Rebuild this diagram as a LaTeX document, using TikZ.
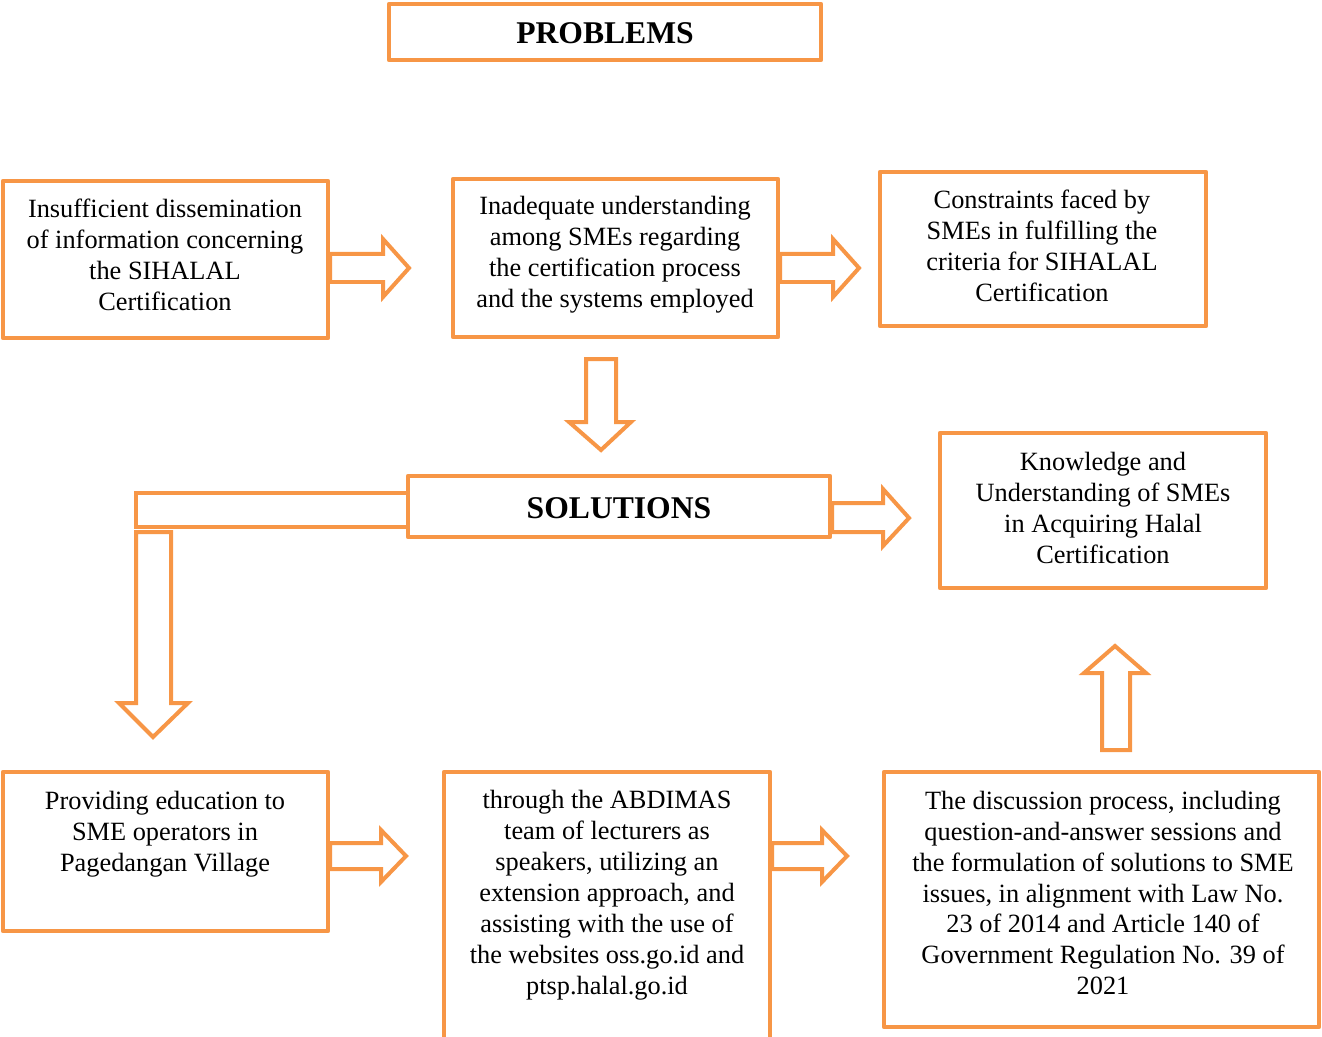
\documentclass[tikz,border=0pt]{standalone}
\usepackage{fontspec}
\setmainfont{Liberation Serif}
\definecolor{boxorange}{HTML}{F79646}
\tikzset{
  every picture/.style={x=0.02cm,y=-0.02cm},
  boxline/.style={draw=boxorange,line width=0.09cm,line join=round},
  blockarrow/.style={draw=boxorange,line width=0.08cm,line join=miter,fill=white},
  txt/.style={align=center,font=\fontsize{15}{17.6}\selectfont,inner sep=0pt},
  headtxt/.style={align=center,font=\fontsize{18}{21}\selectfont\bfseries,inner sep=0pt}
}
\begin{document}
\begin{tikzpicture}
\useasboundingbox (0,0) rectangle (1322,1037);
% boxes
\draw[boxline] (389,4) rectangle (821,60);
\node[headtxt] (problems) at (605,33) {PROBLEMS};

\draw[boxline] (3,181) rectangle (328,338);
\node[txt] (p1) at (165,255) {Insufficient dissemination\\of information concerning\\the SIHALAL\\Certification};

\draw[boxline] (453,179) rectangle (778,337);
\node[txt] (p2) at (615,255) {Inadequate understanding\\among SMEs regarding\\the certification process\\and the systems employed};

\draw[boxline] (880,172) rectangle (1206,326);
\node[txt] (p3) at (1042,246) {Constraints faced by\\SMEs in fulfilling the\\criteria for SIHALAL\\Certification};

% L connector
\draw[blockarrow] (136,493) rectangle (408,527);
\draw[blockarrow] (136,532) -- (171,532) -- (171,703) -- (188,703) -- (153,737) -- (119,703) -- (136,703) -- cycle;

\draw[boxline] (408,476) rectangle (830,537);
\node[headtxt] (solutions) at (619,508) {SOLUTIONS};

\draw[boxline] (940,433) rectangle (1266,588);
\node[txt] (k) at (1103,508) {Knowledge and\\Understanding of SMEs\\in Acquiring Halal\\Certification};

\draw[boxline] (3,772) rectangle (328,931);
\node[txt] (b1) at (165,834) {Providing education to\\SME operators in\\Pagedangan Village};

\draw[boxline] (444,1045) -- (444,772) -- (770,772) -- (770,1045);
\node[txt] (b2) at (607,895) {through the ABDIMAS\\team of lecturers as\\speakers, utilizing an\\extension approach, and\\assisting with the use of\\the websites oss.go.id and\\ptsp.halal.go.id};

\draw[boxline] (884,772) rectangle (1319,1027);
\node[txt] (b3) at (1103,893) {The discussion process, including\\question-and-answer sessions and\\the formulation of solutions to SME\\issues, in alignment with Law No.\\23 of 2014 and Article 140 of\\Government Regulation No. 39 of\\2021};

% right block arrows
\draw[blockarrow] (330,254) -- (383,254) -- (383,239) -- (409,268) -- (383,297) -- (383,282) -- (330,282) -- cycle;
\draw[blockarrow] (780,254) -- (833,254) -- (833,239) -- (859,268) -- (833,297) -- (833,282) -- (780,282) -- cycle;
\draw[blockarrow] (832,503) -- (883,503) -- (883,489) -- (909,518) -- (883,546) -- (883,532) -- (832,532) -- cycle;
\draw[blockarrow] (330,843) -- (381,843) -- (381,830) -- (406,856) -- (381,882) -- (381,869) -- (330,869) -- cycle;
\draw[blockarrow] (772,843) -- (822,843) -- (822,830) -- (847,856) -- (822,882) -- (822,869) -- (772,869) -- cycle;
% down arrow
\draw[blockarrow] (586,359) -- (616,359) -- (616,422) -- (631,422) -- (601,450) -- (569,422) -- (586,422) -- cycle;
% up arrow
\draw[blockarrow] (1102,750) -- (1130,750) -- (1130,673) -- (1146,673) -- (1115,646) -- (1084,673) -- (1102,673) -- cycle;
\end{tikzpicture}
\end{document}
